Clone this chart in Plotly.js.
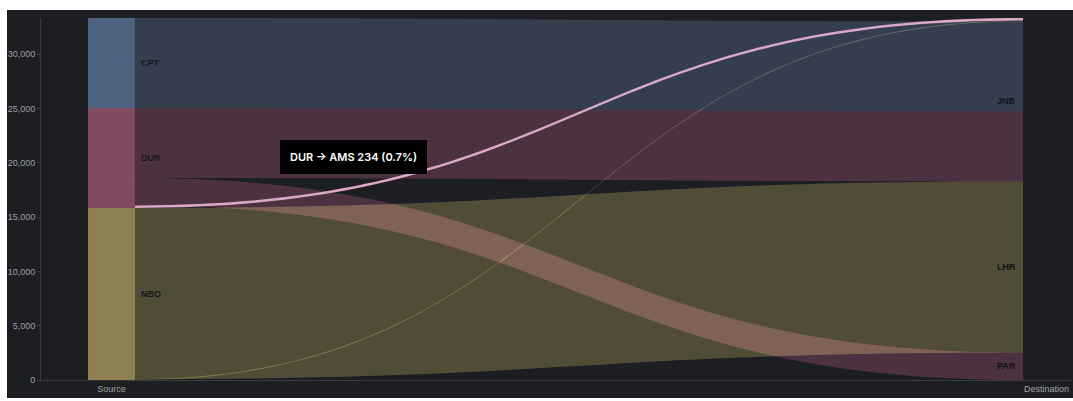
<!DOCTYPE html>
<html>
<head>
<meta charset="utf-8">
<script src="https://cdn.plot.ly/plotly-3.0.1.min.js"></script>
<style>
  html, body { margin: 0; padding: 0; background: #ffffff; }
  #chart { position: absolute; left: 7px; top: 10px; width: 1066px; height: 388px; }
  /* ribbons add their light onto whatever lies beneath them */
  #chart .scatterlayer .trace path.js-fill { mix-blend-mode: screen; mix-blend-mode: plus-lighter; }
  #chart .scatterlayer .tracehighlight path.js-fill { mix-blend-mode: normal; }
</style>
</head>
<body>
<div id="chart"></div>
<script>
// origin nodes, listed top to bottom
const sourceNames = ['CPT', 'DUR', 'NBO'];
const sourceColors = ['#4e6382', '#824b62', '#8b8151'];
// destination nodes, listed top to bottom
const destNames = ['AMS', 'JNB', 'LHR', 'PAR'];

// flows between the two columns
const linkSource = ['CPT', 'DUR', 'DUR', 'DUR', 'NBO', 'NBO'];
const linkTarget = ['JNB', 'JNB', 'PAR', 'AMS', 'LHR', 'AMS'];
const linkValue  = [8282, 6448, 2520, 234, 15760, 80];

const columnLabels = ['Source', 'Destination'];
const activeLink = { source: 'DUR', target: 'AMS' };

const BG = '#1d1e22';
const FONT = 'Liberation Sans, Arial, sans-serif';
const TIP_FONT = 'Inter, Liberation Sans, sans-serif';
const HALF_W = 0.0251;           // half width of a node column, in x units
const LINK_ALPHA = 0.47;

function hexToRgb(h) {
  const n = parseInt(h.slice(1), 16);
  return [(n >> 16) & 255, (n >> 8) & 255, n & 255];
}
function rgba(h, a) { const c = hexToRgb(h); return `rgba(${c[0]},${c[1]},${c[2]},${a})`; }

const total = linkValue.reduce((a, b) => a + b, 0);

// stack the nodes of a column from the top of the axis downwards
function stackNodes(names, key) {
  const out = {};
  let cursor = total;
  names.forEach(n => {
    const v = linkValue.reduce((s, val, i) => s + (key[i] === n ? val : 0), 0);
    out[n] = { top: cursor, value: v };
    cursor -= v;
  });
  return out;
}
const srcNodes = stackNodes(sourceNames, linkSource);
const dstNodes = stackNodes(destNames, linkTarget);

// inside every node the largest flow sits on top
const links = linkValue.map((v, i) => ({ s: linkSource[i], t: linkTarget[i], v }));
function assignEnds(nodes, keyName, posName) {
  Object.keys(nodes).forEach(n => {
    let cursor = nodes[n].top;
    links.filter(l => l[keyName] === n)
         .sort((a, b) => b.v - a.v)
         .forEach(l => { l[posName] = cursor; cursor -= l.v; });
  });
}
assignEnds(srcNodes, 's', 'y0');
assignEnds(dstNodes, 't', 'y1');

// ribbon outline: two horizontal-tangent cubic curves
function ribbon(l) {
  const xa = HALF_W, xb = 1 - HALF_W, N = 80;
  const xs = [], ys = [];
  const curve = (t, ya, yb) => [xa + (xb - xa) * (1.5 * t * (1 - t) + t * t * t),
                                ya + (yb - ya) * (3 * t * t - 2 * t * t * t)];
  for (let k = 0; k <= N; k++) {
    const p = curve(k / N, l.y0, l.y1); xs.push(p[0]); ys.push(p[1]);
  }
  for (let k = N; k >= 0; k--) {
    const p = curve(k / N, l.y0 - l.v, l.y1 - l.v); xs.push(p[0]); ys.push(p[1]);
  }
  xs.push(xs[0]); ys.push(ys[0]);
  return { xs, ys };
}

const traces = [];

// source node bars
sourceNames.forEach((n, i) => {
  traces.push({
    type: 'bar', x: [0], y: [srcNodes[n].value], base: [srcNodes[n].top - srcNodes[n].value],
    width: [2 * HALF_W], marker: { color: sourceColors[i], line: { width: 0 } },
    hoverinfo: 'skip', showlegend: false
  });
});

// flows
let active = null;
links.forEach(l => {
  const r = ribbon(l);
  if (l.s === activeLink.source && l.t === activeLink.target) { active = { l, r }; return; }
  const color = sourceColors[sourceNames.indexOf(l.s)];
  traces.push({
    type: 'scatter', mode: 'none', x: r.xs, y: r.ys, fill: 'toself',
    fillcolor: rgba(color, LINK_ALPHA), hoverinfo: 'skip', showlegend: false
  });
});
if (active) {
  traces.push({
    type: 'scatter', mode: 'none', uid: 'highlight', x: active.r.xs, y: active.r.ys, fill: 'toself',
    fillcolor: '#dca8c9', hoverinfo: 'skip', showlegend: false
  });
}

// node labels
const annotations = [];
sourceNames.forEach(n => {
  annotations.push({
    x: HALF_W, y: srcNodes[n].top - srcNodes[n].value / 2, xref: 'x', yref: 'y',
    text: n, showarrow: false, xanchor: 'left', xshift: 4,
    font: { family: FONT, size: 9, color: '#15171c', weight: 'bold' }
  });
});
destNames.forEach(n => {
  if (dstNodes[n].value < 1000) return;
  annotations.push({
    x: 1 - HALF_W, y: dstNodes[n].top - dstNodes[n].value / 2, xref: 'x', yref: 'y',
    text: n, showarrow: false, xanchor: 'right', xshift: -5,
    font: { family: FONT, size: 9, color: '#101114', weight: 'bold' }
  });
});

// tooltip of the active flow
if (active) {
  const pct = (active.l.v / total * 100).toFixed(1);
  annotations.push({
    x: 0.3034, y: 0.6174, xref: 'paper', yref: 'paper',
    text: `${active.l.s} → ${active.l.t} ${active.l.v} (${pct}%)`,
    showarrow: false, xanchor: 'center', yanchor: 'middle',
    bgcolor: '#000000', borderpad: 10, borderwidth: 0,
    font: { family: TIP_FONT, size: 11, color: '#ffffff', weight: 600 }
  });
}

const layout = {
  width: 1066, height: 388,
  margin: { l: 34, r: 2, t: 8, b: 18 },
  paper_bgcolor: BG, plot_bgcolor: BG,
  barmode: 'overlay', showlegend: false, hovermode: false,
  font: { family: FONT, size: 9, color: '#9c9ea3' },
  xaxis: {
    range: [-0.0754, 1.0262], tickmode: 'array', tickvals: [0, 1], ticktext: columnLabels,
    showgrid: false, zeroline: false, showline: true, linecolor: '#3a3c42', linewidth: 1,
    ticks: '', tickfont: { family: FONT, size: 9, color: '#a3a5aa' }, fixedrange: true
  },
  yaxis: {
    range: [0, total], tick0: 0, dtick: 5000, tickformat: ',',
    showgrid: false, zeroline: false, showline: true, linecolor: '#3a3c42', linewidth: 1,
    ticks: 'outside', ticklen: 3, tickcolor: '#3a3c42',
    tickfont: { family: FONT, size: 9, color: '#9c9ea3' }, fixedrange: true
  },
  annotations
};

Plotly.newPlot('chart', traces, layout, { displayModeBar: false, staticPlot: true });
</script>
</body>
</html>
